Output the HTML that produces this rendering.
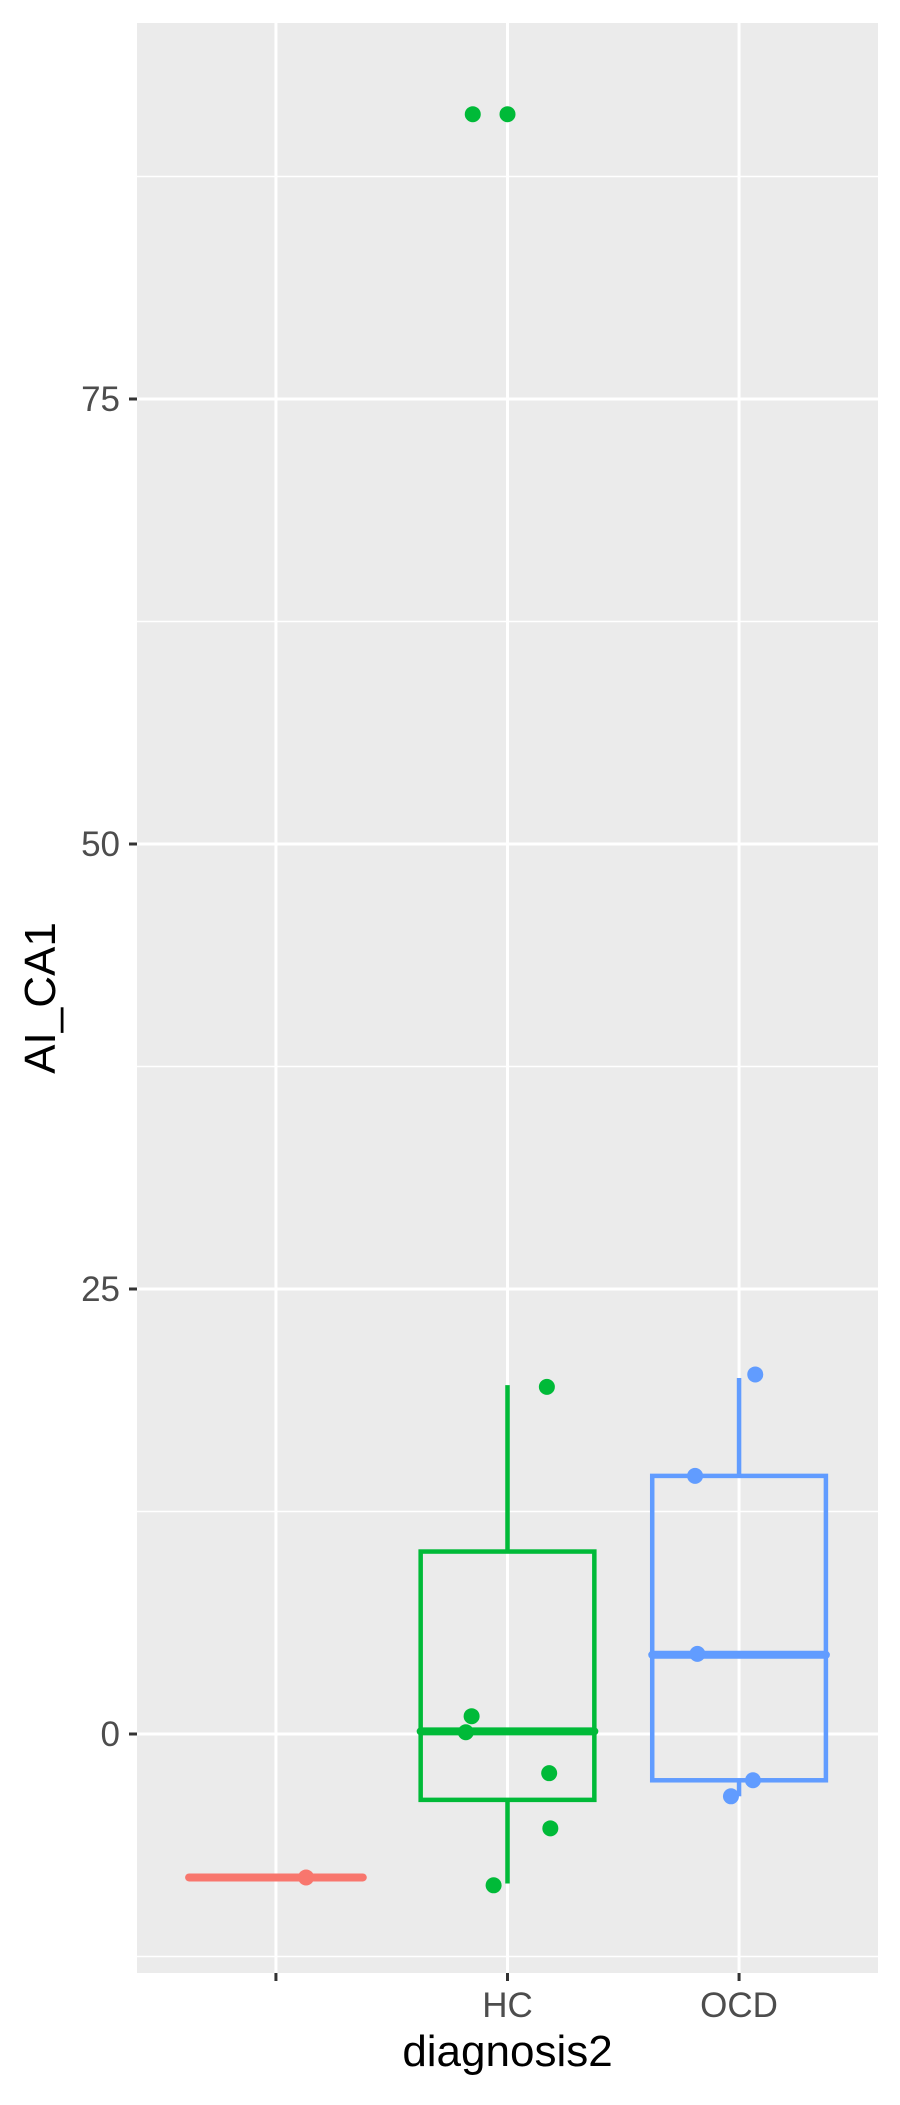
<!DOCTYPE html>
<html><head><meta charset="utf-8"><style>
body{margin:0;background:#fff}
svg text{font-family:"Liberation Sans",sans-serif}
</style></head><body>
<svg id="chart" width="900" height="2100" viewBox="0 0 900 2100" xmlns="http://www.w3.org/2000/svg"></svg>
<script>
const categories = ["", "HC", "OCD"];
const colors = ["#F8766D", "#00BA38", "#619CFF"];
const lowerWhisker = [-8.06, -8.4, -3.5];
const q1 = [-8.06, -3.7, -2.6];
const medians = [-8.06, 0.15, 4.45];
const q3 = [-8.06, 10.25, 14.5];
const upperWhisker = [-8.06, 19.6, 20.0];
const pointsRed = [-8.06];
const jitterRed = [0.13];
const pointsHC = [91.0, 91.0, 19.5, 1.0, 0.1, -2.2, -5.3, -8.5];
const jitterHC = [-0.15, 0.0, 0.17, -0.155, -0.18, 0.18, 0.185, -0.06];
const pointsOCD = [20.2, 14.5, 4.5, -2.6, -3.5];
const jitterOCD = [0.07, -0.19, -0.18, 0.06, -0.035];
const yTicks = [0, 25, 50, 75];
const yMinor = [-12.5, 12.5, 37.5, 62.5, 87.5];

const NS = "http://www.w3.org/2000/svg";
const svg = document.getElementById("chart");
const L = 137, R = 878, T = 23, B = 1973;
const xMin = 0.4, xMax = 3.6;
const Y0 = 1734, PPU = 17.8;
const x = v => L + (v - xMin) / (xMax - xMin) * (R - L);
const y = v => Y0 - v * PPU;
function mk(tag, attrs, parent) {
  const e = document.createElementNS(NS, tag);
  for (const k in attrs) e.setAttribute(k, attrs[k]);
  (parent || svg).appendChild(e);
  return e;
}
let e = mk("rect", {x: L, y: T, width: R - L, height: B - T, fill: "#EBEBEB"});


yMinor.forEach(v => {
  const g = mk("line", {x1: L, x2: R, y1: y(v), y2: y(v), stroke: "#fff", "stroke-width": 1.5});
  
  
});
yTicks.forEach(v => {
  const g = mk("line", {x1: L, x2: R, y1: y(v), y2: y(v), stroke: "#fff", "stroke-width": 3});
  
  
  const t = mk("line", {x1: L - 8, x2: L, y1: y(v), y2: y(v), stroke: "#333", "stroke-width": 3});
  
  
  const lb = mk("text", {x: L - 17, y: y(v) + 12, "text-anchor": "end", "font-size": 35, fill: "#4D4D4D"});
  lb.textContent = v;
  
  
});
categories.forEach((c, i) => {
  const cx = x(i + 1);
  const g = mk("line", {x1: cx, x2: cx, y1: T, y2: B, stroke: "#fff", "stroke-width": 3});
  
  
  const t = mk("line", {x1: cx, x2: cx, y1: B, y2: B + 8, stroke: "#333", "stroke-width": 3});
  
  
  const lb = mk("text", {x: cx, y: 2017, "text-anchor": "middle", "font-size": 35, fill: "#4D4D4D"});
  lb.textContent = c;
  
  
});
const pts = [pointsRed, pointsHC, pointsOCD];
const jit = [jitterRed, jitterHC, jitterOCD];
categories.forEach((c, i) => {
  const cx = x(i + 1), hw = (x(1.375) - x(1));
  const col = colors[i];
  const g = mk("g", {});
  
  
  mk("line", {x1: cx, x2: cx, y1: y(upperWhisker[i]), y2: y(q3[i]), stroke: col, "stroke-width": 4.5}, g);
  mk("line", {x1: cx, x2: cx, y1: y(q1[i]), y2: y(lowerWhisker[i]), stroke: col, "stroke-width": 4.5}, g);
  mk("rect", {x: cx - hw, y: y(q3[i]), width: 2 * hw, height: Math.max(0, y(q1[i]) - y(q3[i])), fill: "none", stroke: col, "stroke-width": 4.5}, g);
  mk("line", {x1: cx - hw, x2: cx + hw, y1: y(medians[i]), y2: y(medians[i]), stroke: col, "stroke-width": 8, "stroke-linecap": "round"}, g);
  pts[i].forEach((v, j) => {
    const p = mk("circle", {cx: x(i + 1 + jit[i][j]), cy: y(v), r: 8, fill: col});
    
    
  });
});
let t1 = mk("text", {x: (L + R) / 2, y: 2066, "text-anchor": "middle", "font-size": 44, fill: "#000"});
t1.textContent = "diagnosis2";


let t2 = mk("text", {x: 0, y: 0, "text-anchor": "middle", "font-size": 44, fill: "#000", transform: "translate(55," + (T + B) / 2 + ") rotate(-90)"});
t2.textContent = "AI_CA1";


</script>
</body></html>
